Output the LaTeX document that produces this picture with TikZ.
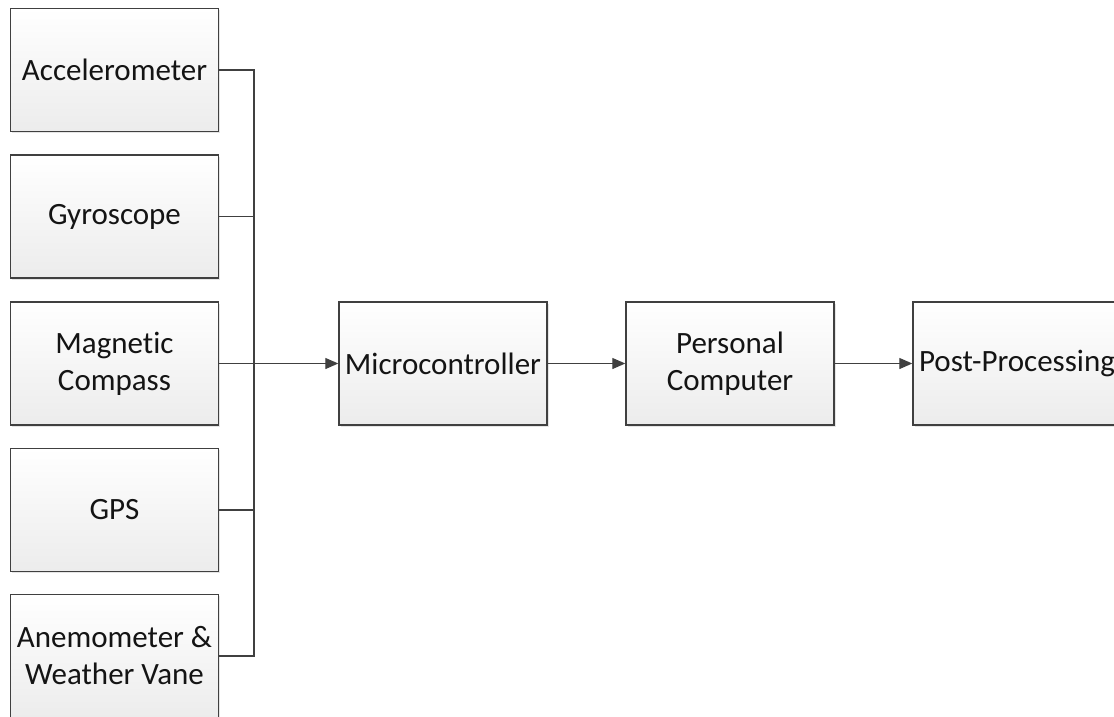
\documentclass[tikz,border=0pt]{standalone}
\usepackage{fontspec}
\setmainfont{Carlito}[Ligatures=NoCommon]
\usetikzlibrary{arrows.meta,shadows}

\definecolor{edge}{HTML}{404040}
\definecolor{fillbot}{HTML}{ECECEC}

\tikzset{
  block/.style={
    draw=edge, line width=1.4pt, rectangle,
    minimum width=208pt, minimum height=123pt, inner sep=0pt,
    top color=white, bottom color=fillbot,
    align=center, text=black!92,
    font=\fontsize{31}{37}\selectfont,
    drop shadow={shadow xshift=1.5pt, shadow yshift=-1.5pt, fill=black, opacity=0.10}
  },
  wire/.style={draw=edge, line width=1.2pt},
  flow/.style={wire, -{Triangle[length=13pt, width=11pt]}}
}

\begin{document}
\begin{tikzpicture}[x=1pt, y=-1pt]
  \useasboundingbox (0,0) rectangle (1114,717);
  \clip (0,0) rectangle (1114,717);
  \fill[white] (0,0) rectangle (1114,717);

  % sensor column
  \node[block] (acc) at (114.5,70)    {Accelerometer};
  \node[block] (gyr) at (114.5,216.5) {Gyroscope};
  \node[block] (mag) at (114.5,363.5) {Magnetic\\Compass};
  \node[block] (gps) at (114.5,510)   {GPS};
  \node[block] (ane) at (114.5,656)   {Anemometer \&\\Weather Vane};

  % processing chain
  \node[block] (mcu)  at (443,363.5)  {Microcontroller};
  \node[block] (pc)   at (730,363.5)  {Personal\\Computer};
  \node[block] (post) at (1017,363.5) {Post-Processing};

  % shared sensor bus
  \coordinate (bus) at (254,363.5);
  \draw[wire] (acc.east) -| (bus);
  \draw[wire] (ane.east) -| (bus);
  \draw[wire] (gyr.east) -- (gyr.east -| bus);
  \draw[wire] (gps.east) -- (gps.east -| bus);

  % data flow
  \draw[flow] (mag.east) -- (mcu.west);
  \draw[flow] (mcu.east) -- (pc.west);
  \draw[flow] (pc.east) -- (post.west);
\end{tikzpicture}
\end{document}
